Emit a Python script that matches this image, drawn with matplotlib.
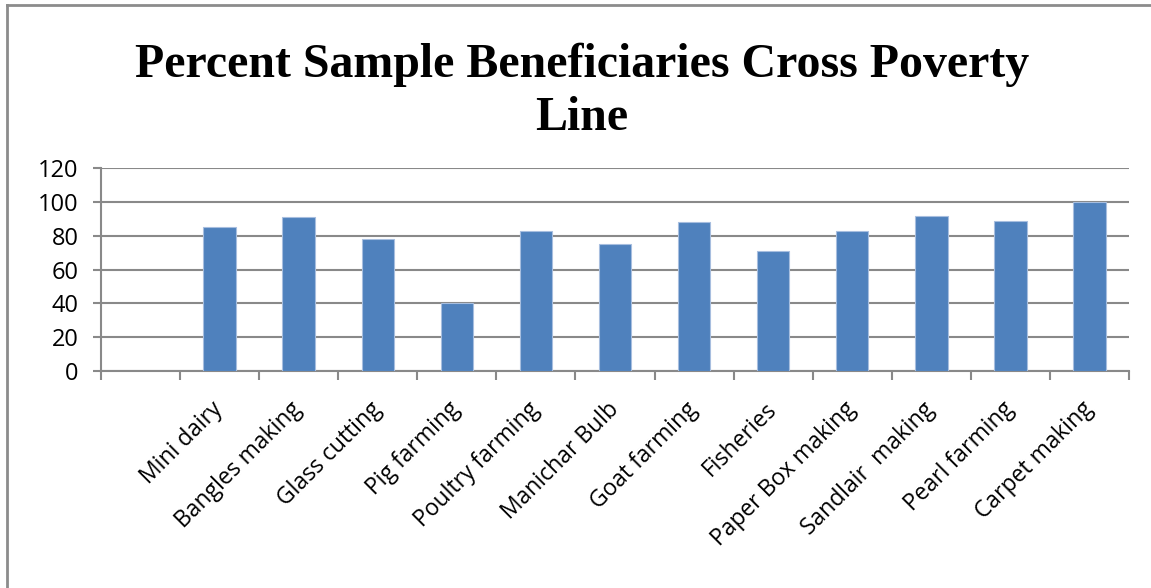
import numpy as np
import matplotlib
matplotlib.use("Agg")
import matplotlib.pyplot as plt
from matplotlib.lines import Line2D

# Activities (the first category slot is left empty on the axis)
categories = ["", "Mini dairy", "Bangles making", "Glass cutting", "Pig farming",
              "Poultry farming", "Manichar Bulb", "Goat farming", "Fisheries",
              "Paper Box making", "Sandlair  making", "Pearl farming", "Carpet making"]
percent_crossed = [np.nan, 85, 91, 78, 40, 83, 75, 88, 71, 83, 92, 89, 100]
y_ticks = [0, 20, 40, 60, 80, 100, 120]

title = "Percent Sample Beneficiaries Cross Poverty\nLine"

grid_color = "#898989"
bar_color = "#4F81BD"

fig = plt.figure(figsize=(11.51, 5.88), dpi=100)
ax = fig.add_axes([101 / 1151, 1 - 371 / 588, 1028 / 1151, (371 - 168.3) / 588])

x = np.arange(len(categories))
ax.bar(x, percent_crossed, width=0.41, color=bar_color,
       edgecolor="#A7BEDF", linewidth=0.8, zorder=3)

ax.set_xlim(-0.5, len(categories) - 0.5)
ax.set_ylim(0, 120)
ax.set_yticks(y_ticks)
ax.set_yticklabels([str(v) for v in y_ticks], fontsize=17, family="Open Sans")
ax.yaxis.grid(True, color=grid_color, linewidth=1.5, zorder=0)
ax.set_axisbelow(True)

# category boundary tick marks, labels at category centres
ax.set_xticks(np.arange(-0.5, len(categories)), minor=False)
ax.set_xticklabels([])
ax.set_xticks(x, minor=True)
ax.set_xticklabels(categories, minor=True, rotation=45, ha="right", va="center",
                   rotation_mode="anchor", fontsize=16.5, family="Open Sans")
ax.tick_params(axis="x", which="minor", length=0, pad=25)
ax.tick_params(axis="x", which="major", length=6.5, width=1.5, color=grid_color)
ax.tick_params(axis="y", length=6, width=1.5, color=grid_color, pad=10)

for side in ("top", "right"):
    ax.spines[side].set_visible(False)
for side in ("left", "bottom"):
    ax.spines[side].set_color(grid_color)
    ax.spines[side].set_linewidth(1.5)

fig.text(582 / 1151, 1 - 43 / 588, title, ha="center", va="top",
         fontsize=34.5, fontweight="bold", family="Liberation Serif", linespacing=1.26)

# outer frame on the left and top edges
fig.add_artist(Line2D([6.5 / 1151, 6.5 / 1151], [0, 1 - 4.5 / 588],
                      transform=fig.transFigure, color="#8C8C8C", linewidth=2))
fig.add_artist(Line2D([6.5 / 1151, 1], [1 - 4.5 / 588, 1 - 4.5 / 588],
                      transform=fig.transFigure, color="#8C8C8C", linewidth=2))

fig.savefig("out.png", dpi=100, facecolor="white")
